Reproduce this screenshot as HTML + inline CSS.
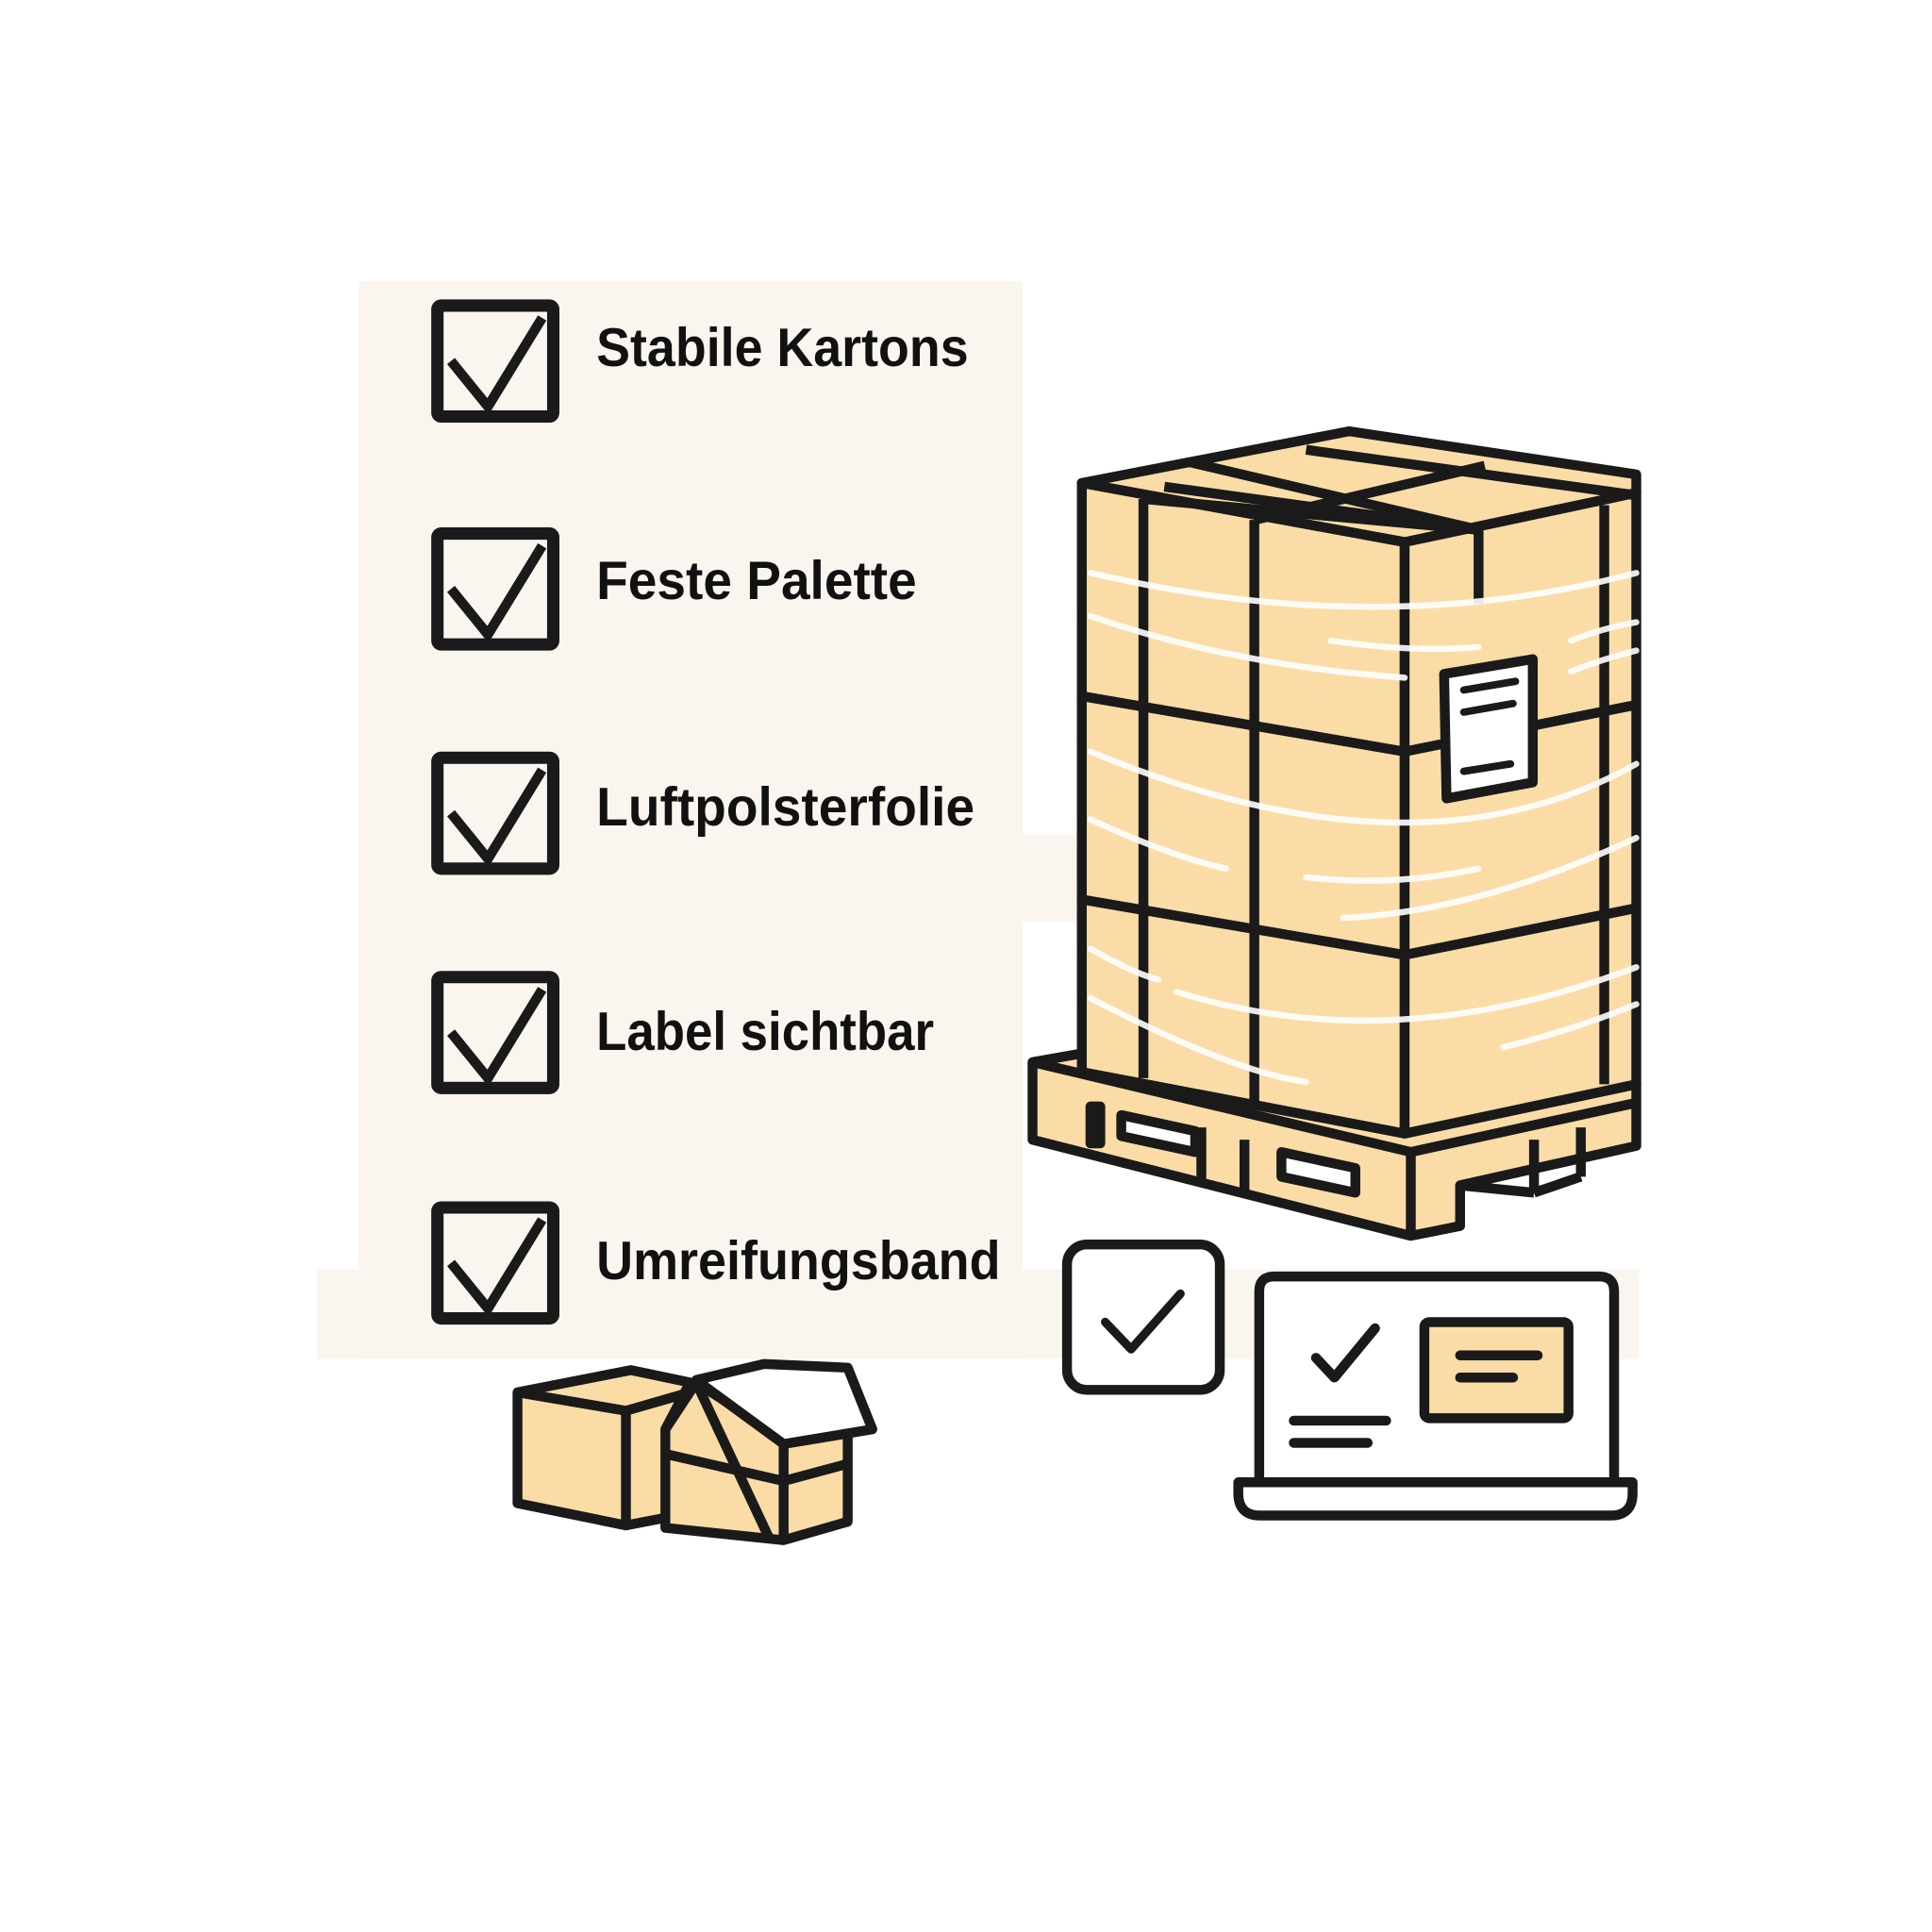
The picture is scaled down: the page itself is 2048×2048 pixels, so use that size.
<!DOCTYPE html>
<html><head><meta charset="utf-8"><style>html,body{margin:0;padding:0;background:#fff}svg{display:block}</style></head>
<body>
<svg width="2048" height="2048" viewBox="0 0 1568 1568" xmlns="http://www.w3.org/2000/svg">
<rect width="1568" height="1568" fill="#fff"/>
<g fill="#faf6ef">
<rect x="291" y="228" width="539" height="875"/>
<rect x="257" y="1030" width="1073" height="73"/>
<rect x="830" y="677" width="50" height="71"/>
</g>
<g stroke="#1a1a1a" fill="none" stroke-linejoin="round">
<g id="cb"><rect x="355" y="248" width="94" height="90" rx="3" stroke-width="10"/><path d="M366 293 L396 330 L440 258" stroke-width="8"/></g>
<use href="#cb" y="185"/><use href="#cb" y="367"/><use href="#cb" y="545"/><use href="#cb" y="732"/>
</g>
<g font-family="Liberation Sans, sans-serif" font-weight="bold" font-size="44" fill="#111">
<text x="484" y="297" textLength="302" lengthAdjust="spacingAndGlyphs">Stabile Kartons</text>
<text x="484" y="486" textLength="260" lengthAdjust="spacingAndGlyphs">Feste Palette</text>
<text x="484" y="670" textLength="307" lengthAdjust="spacingAndGlyphs">Luftpolsterfolie</text>
<text x="484" y="852" textLength="274" lengthAdjust="spacingAndGlyphs">Label sichtbar</text>
<text x="484" y="1038" textLength="328" lengthAdjust="spacingAndGlyphs">Umreifungsband</text>
</g>
<g stroke="#1a1a1a" stroke-width="8" stroke-linejoin="round" fill="#fbdca6">
<polygon points="838,862 878,855 1140,920 1328,880 1328,930 1185,962 1185,995 1145,1003 838,925"/>
<line x1="838" y1="862" x2="1145" y2="935"/><line x1="1145" y1="935" x2="1328" y2="895"/>
<line x1="1145" y1="935" x2="1145" y2="1003"/>
<rect x="885" y="898" width="8" height="30" fill="#1a1a1a"/>
<polygon points="910,905 970,918 970,935 910,922" fill="#fff"/>
<polygon points="1040,935 1100,948 1100,968 1040,955" fill="#fff"/>
<line x1="975" y1="915" x2="975" y2="962"/><line x1="1010" y1="925" x2="1010" y2="968"/>
<line x1="1245" y1="925" x2="1245" y2="968"/><line x1="1185" y1="962" x2="1245" y2="968"/><line x1="1245" y1="968" x2="1283" y2="955"/><line x1="1283" y1="915" x2="1283" y2="955"/>
<polygon points="878,392 1095,350 1328,385 1328,400 1140,440"/>
<polygon points="878,392 1140,440 1140,920 878,870"/>
<polygon points="1140,440 1328,400 1328,880 1140,920"/>
<g fill="none">
<line x1="928" y1="405" x2="928" y2="875"/><line x1="1018" y1="422" x2="1018" y2="895"/>
<line x1="1302" y1="410" x2="1302" y2="880"/><line x1="1200" y1="428" x2="1200" y2="490"/>
<line x1="878" y1="565" x2="1140" y2="610"/><line x1="1140" y1="610" x2="1328" y2="572"/>
<line x1="878" y1="730" x2="1140" y2="775"/><line x1="1140" y1="775" x2="1328" y2="737"/>
<line x1="928" y1="405" x2="1200" y2="430"/><line x1="945" y1="395" x2="1200" y2="430"/>
<line x1="1018" y1="422" x2="1205" y2="378"/><line x1="965" y1="375" x2="1200" y2="430"/>
<line x1="1060" y1="365" x2="1328" y2="402"/>
</g>
</g>
<g stroke="#fff" stroke-width="5" fill="none" stroke-linecap="round" opacity="0.9">
<path d="M885 465 Q1120 520 1328 465"/><path d="M885 500 Q1000 540 1140 550"/><path d="M1080 520 Q1150 530 1200 525"/><path d="M1275 520 Q1300 510 1328 505"/><path d="M1275 545 Q1300 535 1328 528"/>
<path d="M885 610 Q1150 720 1328 620"/><path d="M885 665 Q950 695 995 705"/><path d="M1060 712 Q1130 720 1200 705"/><path d="M1090 745 Q1200 740 1328 680"/>
<path d="M885 770 Q920 790 940 795"/><path d="M955 805 Q1130 860 1328 785"/><path d="M885 810 Q1000 870 1060 878"/><path d="M1220 850 Q1280 835 1328 815"/>
</g>
<polygon points="1172,547 1244,535 1244,635 1174,648" fill="#fff" stroke="#1a1a1a" stroke-width="8" stroke-linejoin="round"/>
<g stroke="#1a1a1a" stroke-width="6" stroke-linecap="round"><line x1="1188" y1="560" x2="1230" y2="553"/><line x1="1188" y1="578" x2="1228" y2="571"/><line x1="1188" y1="626" x2="1226" y2="620"/></g>
<g stroke="#1a1a1a" stroke-width="8" stroke-linejoin="round" fill="#fbdca6">
<polygon points="420,1130 512,1112 560,1122 560,1228 508,1238 420,1220"/>
<polyline points="420,1130 508,1145 560,1130" fill="none"/><line x1="508" y1="1145" x2="508" y2="1238"/>
<polygon points="540,1160 565,1122 636,1168 688,1160 688,1235 636,1250 540,1240"/>
<polygon points="565,1120 620,1107 688,1110 708,1160 636,1172" fill="#fff"/>
<line x1="636" y1="1170" x2="636" y2="1250"/><line x1="540" y1="1180" x2="636" y2="1202"/><line x1="636" y1="1202" x2="688" y2="1188"/>
<line x1="565" y1="1122" x2="625" y2="1250"/><line x1="560" y1="1122" x2="540" y2="1160"/>
</g>
<rect x="866" y="1010" width="124" height="118" rx="16" fill="#fff" stroke="#1a1a1a" stroke-width="8"/>
<path d="M897 1073 L918 1095 L958 1050" fill="none" stroke="#1a1a1a" stroke-width="7" stroke-linecap="round" stroke-linejoin="round"/>
<g stroke="#1a1a1a" stroke-width="8" stroke-linejoin="round" stroke-linecap="round">
<path d="M1022 1200 V1048 Q1022 1036 1034 1036 H1298 Q1310 1036 1310 1048 V1200" fill="#fff"/>
<path d="M1005 1203 H1325 V1212 Q1325 1230 1307 1230 H1023 Q1005 1230 1005 1212 Z" fill="#fff"/>
<rect x="1156" y="1073" width="117" height="78" rx="4" fill="#fbdca6"/>
<line x1="1185" y1="1100" x2="1248" y2="1100"/><line x1="1185" y1="1118" x2="1228" y2="1118"/>
<line x1="1050" y1="1153" x2="1125" y2="1153"/><line x1="1050" y1="1171" x2="1110" y2="1171"/>
<path d="M1068 1102 L1083 1118 L1116 1078" fill="none"/>
</g>
</svg>
</body></html>
